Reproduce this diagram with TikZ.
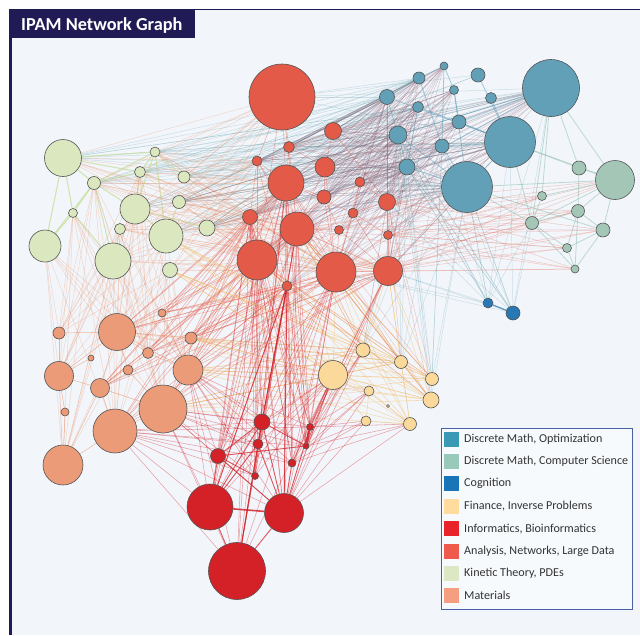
\documentclass[tikz,border=0pt]{standalone}
\usepackage{fontspec}
\setmainfont{Carlito}
\pgfdeclarelayer{bg}
\pgfdeclarelayer{edges}
\pgfsetlayers{bg,edges,main}
\definecolor{navy}{HTML}{201A55}
\definecolor{panel}{HTML}{F2F6FB}
\definecolor{ana}{HTML}{E35B48}
\definecolor{opt}{HTML}{62A0B8}
\definecolor{cs}{HTML}{A3C6B6}
\definecolor{cog}{HTML}{2878B5}
\definecolor{fin}{HTML}{FAD99B}
\definecolor{inf}{HTML}{D42027}
\definecolor{kin}{HTML}{DAE7BF}
\definecolor{mat}{HTML}{EB9B78}
\definecolor{nodeline}{HTML}{555555}
\definecolor{mauve}{HTML}{8A5A6E}
\definecolor{teal}{HTML}{6AA8B0}
\definecolor{kgreen}{HTML}{C5DC95}
\definecolor{orng}{HTML}{EB8A60}
\definecolor{yel}{HTML}{F2C070}
\definecolor{csl}{HTML}{8FBFAE}
\definecolor{legbox}{HTML}{4A5FA8}
\definecolor{sw1}{HTML}{3A9AB5}
\definecolor{sw2}{HTML}{99C9B9}
\definecolor{sw3}{HTML}{1A75B8}
\definecolor{sw4}{HTML}{FEDC9E}
\definecolor{sw5}{HTML}{E8232A}
\definecolor{sw6}{HTML}{EE5A4C}
\definecolor{sw7}{HTML}{DBE8C3}
\definecolor{sw8}{HTML}{F59F80}
\newcommand\EdgeSet[3]{\foreach \s in {#2}{\foreach \t in {#3}{\draw[#1] (\s) -- (\t);}}}
\tikzset{
  nd/.style={circle, draw=nodeline, line width=0.6pt, inner sep=0pt, minimum size=#1pt},
  er/.style={draw=ana, draw opacity=0.45, line width=0.55pt},
  eri/.style={draw=inf, draw opacity=0.4, line width=0.55pt},
  erb/.style={draw=inf, draw opacity=0.85, line width=1.6pt},
  emv/.style={draw=mauve, draw opacity=0.3, line width=0.5pt},
  etl/.style={draw=teal, draw opacity=0.3, line width=0.5pt},
  eop/.style={draw=opt, draw opacity=0.55, line width=0.8pt},
  egr/.style={draw=kgreen, draw opacity=0.7, line width=1.1pt},
  eor/.style={draw=orng, draw opacity=0.3, line width=0.5pt},
  eyl/.style={draw=yel, draw opacity=0.5, line width=0.6pt},
  ecs/.style={draw=csl, draw opacity=0.55, line width=0.8pt},
  ecr/.style={draw=ana, draw opacity=0.3, line width=0.5pt},
  swatch/.style={minimum width=15pt, minimum height=15pt, inner sep=0pt, anchor=west},
  legtext/.style={anchor=west, inner sep=0pt, text=black!80, font=\fontsize{12.1}{13}\selectfont},
}
\begin{document}
\begin{tikzpicture}[x=1pt,y=-1pt]
\useasboundingbox (0,0) rectangle (640,635);
\begin{pgfonlayer}{bg}
\fill[white] (0,0) rectangle (640,635);
\fill[panel] (10,10) rectangle (640,635);
\draw[navy, line width=0.8pt] (10,9.8) -- (640,9.8);
\draw[navy, line width=2.5pt] (10.5,9) -- (10.5,635);
\end{pgfonlayer}
% Analysis
\node[nd=66,fill=ana] (a1) at (282,97) {};
\node[nd=17,fill=ana] (a2) at (333,131) {};
\node[nd=11,fill=ana] (a3) at (289,147) {};
\node[nd=10,fill=ana] (a4) at (257,161) {};
\node[nd=20,fill=ana] (a5) at (325,167) {};
\node[nd=36,fill=ana] (a6) at (286,183) {};
\node[nd=10,fill=ana] (a7) at (360,182) {};
\node[nd=14,fill=ana] (a8) at (324,197) {};
\node[nd=17,fill=ana] (a9) at (387,202) {};
\node[nd=10,fill=ana] (a10) at (353,213) {};
\node[nd=15,fill=ana] (a11) at (250,217) {};
\node[nd=34,fill=ana] (a12) at (297,229) {};
\node[nd=9,fill=ana] (a13) at (339,230) {};
\node[nd=9,fill=ana] (a14) at (388,235) {};
\node[nd=40,fill=ana] (a15) at (257,260) {};
\node[nd=40,fill=ana] (a16) at (336,272) {};
\node[nd=29,fill=ana] (a17) at (388,271) {};
\node[nd=10,fill=ana] (a18) at (287,286) {};
% Optimization
\node[nd=8,fill=opt] (b1) at (444,66) {};
\node[nd=12,fill=opt] (b2) at (419,78) {};
\node[nd=14,fill=opt] (b3) at (478,75) {};
\node[nd=57,fill=opt] (b4) at (551,88) {};
\node[nd=15,fill=opt] (b5) at (387,97) {};
\node[nd=9,fill=opt] (b6) at (454,90) {};
\node[nd=11,fill=opt] (b7) at (491,98) {};
\node[nd=11,fill=opt] (b8) at (418,107) {};
\node[nd=14,fill=opt] (b9) at (459,122) {};
\node[nd=18,fill=opt] (b10) at (398,135) {};
\node[nd=14,fill=opt] (b11) at (442,146) {};
\node[nd=51,fill=opt] (b12) at (510,142) {};
\node[nd=16,fill=opt] (b13) at (407,167) {};
\node[nd=51,fill=opt] (b14) at (467,187) {};
% Computer science
\node[nd=14,fill=cs] (c1) at (579,168) {};
\node[nd=39,fill=cs] (c2) at (615,180) {};
\node[nd=9,fill=cs] (c3) at (542,196) {};
\node[nd=13,fill=cs] (c4) at (578,211) {};
\node[nd=13,fill=cs] (c5) at (532,223) {};
\node[nd=14,fill=cs] (c6) at (603,230) {};
\node[nd=9,fill=cs] (c7) at (567,248) {};
\node[nd=8,fill=cs] (c8) at (575,269) {};
% Cognition
\node[nd=10,fill=cog] (g1) at (488,303) {};
\node[nd=14,fill=cog] (g2) at (513,313) {};
% Finance
\node[nd=14,fill=fin] (f1) at (363,350) {};
\node[nd=13,fill=fin] (f2) at (401,362) {};
\node[nd=29,fill=fin] (f3) at (333,375) {};
\node[nd=13,fill=fin] (f4) at (432,379) {};
\node[nd=10,fill=fin] (f5) at (369,391) {};
\node[nd=16,fill=fin] (f6) at (431,400) {};
\node[nd=3,fill=fin] (f7) at (388,406) {};
\node[nd=10,fill=fin] (f8) at (366,421) {};
\node[nd=13,fill=fin] (f9) at (410,424) {};
% Informatics
\node[nd=16,fill=inf] (i1) at (262,422) {};
\node[nd=10,fill=inf] (i2) at (258,444) {};
\node[nd=7,fill=inf] (i3) at (310,427) {};
\node[nd=6,fill=inf] (i4) at (306,446) {};
\node[nd=15,fill=inf] (i5) at (218,456) {};
\node[nd=8,fill=inf] (i6) at (292,463) {};
\node[nd=7,fill=inf] (i7) at (255,476) {};
\node[nd=46,fill=inf] (i8) at (210,507) {};
\node[nd=39,fill=inf] (i9) at (284,513) {};
\node[nd=57,fill=inf] (i10) at (237,571) {};
% Kinetic
\node[nd=37,fill=kin] (k1) at (63,158) {};
\node[nd=10,fill=kin] (k2) at (155,152) {};
\node[nd=11,fill=kin] (k3) at (140,172) {};
\node[nd=12,fill=kin] (k4) at (184,177) {};
\node[nd=13,fill=kin] (k5) at (94,183) {};
\node[nd=30,fill=kin] (k6) at (135,209) {};
\node[nd=13,fill=kin] (k7) at (179,202) {};
\node[nd=9,fill=kin] (k8) at (73,213) {};
\node[nd=11,fill=kin] (k9) at (120,229) {};
\node[nd=34,fill=kin] (k10) at (166,236) {};
\node[nd=16,fill=kin] (k11) at (207,228) {};
\node[nd=32,fill=kin] (k12) at (45,246) {};
\node[nd=36,fill=kin] (k13) at (113,261) {};
\node[nd=15,fill=kin] (k14) at (170,270) {};
% Materials
\node[nd=8,fill=mat] (m1) at (162,313) {};
\node[nd=12,fill=mat] (m2) at (59,333) {};
\node[nd=37,fill=mat] (m3) at (117,332) {};
\node[nd=12,fill=mat] (m4) at (191,338) {};
\node[nd=6,fill=mat] (m5) at (91,358) {};
\node[nd=11,fill=mat] (m6) at (148,353) {};
\node[nd=10,fill=mat] (m7) at (128,370) {};
\node[nd=29,fill=mat] (m8) at (59,376) {};
\node[nd=19,fill=mat] (m9) at (100,388) {};
\node[nd=30,fill=mat] (m10) at (188,370) {};
\node[nd=48,fill=mat] (m11) at (163,409) {};
\node[nd=8,fill=mat] (m12) at (65,412) {};
\node[nd=44,fill=mat] (m13) at (115,431) {};
\node[nd=40,fill=mat] (m14) at (63,465) {};

\begin{pgfonlayer}{edges}
% kinetic - blue (teal)
\EdgeSet{etl}{k1,k2,k3,k5,k6,k7,k4,k11,k10}{b5,b10,b13,b12,b4,b8,b2,b14}
\EdgeSet{etl}{a1,a3,a4}{b4,b12,b5,b2,b3}
% analysis - blue (mauve)
\EdgeSet{emv}{a2,a3,a5,a6,a8,a9,a12,a15,a16,a17,a4,a11,a7,a10}{b2,b5,b8,b10,b11,b13,b12,b4,b14,b9,b6,b1}
\EdgeSet{emv}{a18,a13,a14,k11,k7}{b5,b10,b13,b12,b4,b14}
% blue internal
\foreach \s/\t in {b10/b13,b5/b10,b10/b14,b13/b14,b11/b12,b9/b12,b8/b12,b13/b4,b10/b4,b5/b2,b2/b1,b1/b6,b6/b9,b6/b14,b3/b12,b7/b12,b1/b11,b2/b11,b8/b13,b9/b4,b12/b14,b5/b12,b11/b14}{\draw[eop] (\s) -- (\t);}
\EdgeSet{etl}{b14,b13,b10,b11}{g1,g2,f2,f4,f6,f1}
% kinetic internal
\foreach \s/\t in {k1/k2,k1/k3,k1/k5,k1/k8,k1/k12,k5/k2,k5/k3,k5/k6,k5/k8,k5/k12,k5/k13,k2/k3,k2/k4,k2/k6,k2/k10,k8/k12,k8/k13,k6/k10,k6/k11,k3/k6,k9/k13,k7/k10}{\draw[egr] (\s) -- (\t);}
% kinetic - analysis
\EdgeSet{eor}{k1,k2,k3,k4,k5,k6,k7,k9,k10,k11,k13,k14}{a4,a6,a11,a12,a15,a16,a1,a17}
% kinetic - materials
\EdgeSet{eor}{k5,k6,k8,k9,k10,k12,k13,k14,k3}{m2,m3,m6,m8,m10,m11,m13,m14}
% materials internal
\foreach \s/\t in {m3/m2,m3/m6,m3/m7,m3/m9,m3/m10,m3/m1,m3/m4,m8/m2,m8/m9,m8/m12,m8/m3,m8/m5,m11/m10,m11/m6,m11/m7,m11/m9,m11/m13,m13/m9,m13/m14,m14/m12,m14/m8,m14/m9,m10/m4,m10/m1,m10/m6,m9/m6}{\draw[eor, draw opacity=0.6] (\s) -- (\t);}
% materials - analysis
\EdgeSet{er}{m1,m3,m4,m6,m10,m11,m13,m9}{a15,a12,a16,a18,a11,a6,a17}
\EdgeSet{eor}{m3,m10,m11,m4}{f3,f1,f5,f2}
% analysis internal
\foreach \s/\t in {a1/a3,a1/a4,a1/a6,a1/a12,a1/a15,a2/a3,a2/a5,a2/a9,a3/a5,a3/a6,a3/a12,a4/a6,a4/a11,a4/a12,a4/a15,a4/a18,a4/a16,a5/a8,a5/a12,a5/a16,a6/a8,a6/a11,a6/a12,a6/a15,a6/a16,a6/a18,a6/a10,a7/a9,a7/a10,a7/a16,a7/a12,a8/a12,a8/a13,a8/a16,a8/a15,a9/a14,a9/a17,a9/a16,a9/a12,a10/a13,a10/a16,a10/a17,a10/a14,a11/a12,a11/a15,a11/a18,a11/a16,a12/a15,a12/a16,a12/a18,a12/a17,a12/a13,a13/a16,a13/a17,a13/a18,a14/a17,a14/a16,a15/a16,a15/a18,a16/a17,a16/a18,a17/a18}{\draw[er] (\s) -- (\t);}
% finance
\foreach \s/\t in {f3/f1,f3/f2,f3/f5,f3/f8,f3/f6,f3/f4,f1/f2,f1/f4,f1/f6,f2/f4,f2/f9,f5/f6,f5/f9,f8/f9,f5/f8,f2/f6}{\draw[eyl] (\s) -- (\t);}
\EdgeSet{eyl}{f1,f2,f3,f4,f6,f9}{a15,a16,a17,a12,m10,m11,k14,k10,m4}
\EdgeSet{ecr}{a12,a15,a6,a9}{f1,f2,f4,f6}
% CS
\foreach \s/\t in {c2/c1,c2/c4,c2/c6,c2/c5,c2/c3,c2/b4,c2/b12,c2/b14,c4/c1,c4/c6,c4/c7,c4/c8,c4/c5,c5/c3,c5/c7,c5/c8,c5/b12,c5/b14,c5/b4,c8/c7,c8/c6,c1/b4,c1/b12,c3/b4,c6/b14,c7/c6}{\draw[ecs] (\s) -- (\t);}
\EdgeSet{ecr}{c2,c5,c4,c3,c6,c7,c8}{a16,a17,a9,a14,a12}
% cognition
\draw[draw=cog, draw opacity=0.8, line width=1.2pt] (g1) -- (g2);
\EdgeSet{etl}{g1,g2}{b10,b13,b14,b12,b4,c5,a17,a16,a9}
% informatics
\EdgeSet{eri}{i1,i2,i5,i8,i9,i10,i3,i4,i6,i7}{a15,a16,a18,a12,m11,m13,m10,f3,a6,a11}
\EdgeSet{eri}{i3,i4,i9,i6}{f1,f5,f8,f3,a17,f9}
\foreach \s/\t in {i1/i8,i1/i9,i2/i8,i5/i8,i5/i1,i5/i9,i1/i2,i10/i8,i10/i9,i2/i9,i7/i5,i3/i9,i4/i1,i4/i5,i6/i9,i1/i10,i2/i10,a18/i1,a18/i8,a18/i9}{\draw[eri, draw opacity=0.75, line width=0.9pt] (\s) -- (\t);}
\draw[erb] (i8) -- (i9);
\draw[erb, line width=2.4pt] (i3) -- (i4);
\end{pgfonlayer}

% title
\fill[navy] (9,9) rectangle (195,38);
\node[anchor=base west, inner sep=0pt, text=white, font=\fontsize{18.3}{19}\selectfont\bfseries] (title) at (21,30) {IPAM Network Graph};

% legend
\draw[legbox, fill=panel!60!white, line width=0.9pt] (441,428) rectangle (632,609);
\node[swatch, fill=sw1] (s1) at (444,439) {};
\node[swatch, fill=sw2] (s2) at (444,461.4) {};
\node[swatch, fill=sw3] (s3) at (444,483.8) {};
\node[swatch, fill=sw4] (s4) at (444,506.2) {};
\node[swatch, fill=sw5] (s5) at (444,528.6) {};
\node[swatch, fill=sw6] (s6) at (444,551) {};
\node[swatch, fill=sw7] (s7) at (444,573.4) {};
\node[swatch, fill=sw8] (s8) at (444,595.8) {};
\node[legtext] (t1) at (464,439) {Discrete Math, Optimization};
\node[legtext] (t2) at (464,461.4) {Discrete Math, Computer Science};
\node[legtext] (t3) at (464,483.8) {Cognition};
\node[legtext] (t4) at (464,506.2) {Finance, Inverse Problems};
\node[legtext] (t5) at (464,528.6) {Informatics, Bioinformatics};
\node[legtext] (t6) at (464,551) {Analysis, Networks, Large Data};
\node[legtext] (t7) at (464,573.4) {Kinetic Theory, PDEs};
\node[legtext] (t8) at (464,595.8) {Materials};
\end{tikzpicture}
\end{document}
